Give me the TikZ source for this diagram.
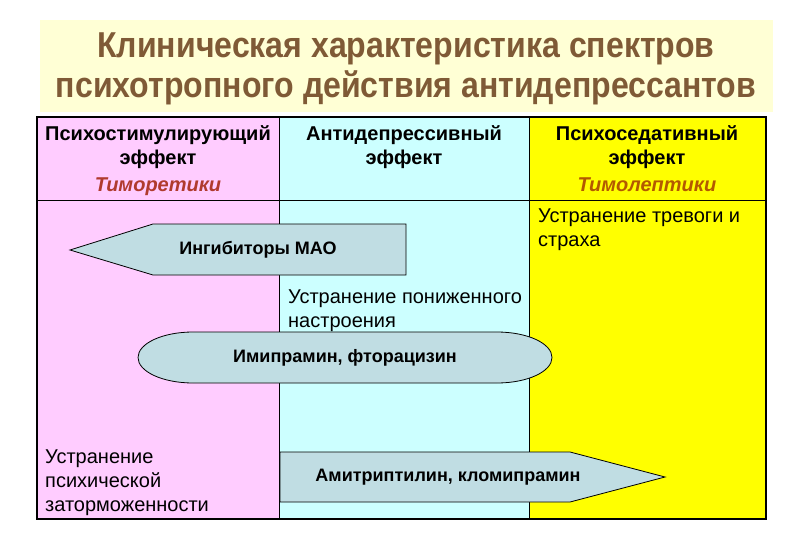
\documentclass[tikz,border=0pt]{standalone}
\usepackage{fontspec}
\setmainfont{Liberation Sans}
\usetikzlibrary{positioning}

\definecolor{titlebg}{HTML}{FFFFD5}
\definecolor{titlefg}{HTML}{7F5A36}
\definecolor{colpink}{HTML}{FFCCFF}
\definecolor{colcyan}{HTML}{CCFFFF}
\definecolor{colyellow}{HTML}{FFFF00}
\definecolor{shapefill}{HTML}{C0DDE3}
\definecolor{redtag}{HTML}{B03A2E}
\definecolor{browntag}{HTML}{B35900}

\begin{document}
\begin{tikzpicture}[x=1pt,y=-1pt,
 txt/.style={inner sep=0pt,font=\fontsize{20}{24}\selectfont},
 head/.style={txt,align=center,font=\fontsize{20}{24}\selectfont\bfseries},
 tag/.style={inner sep=0pt,font=\fontsize{20}{24}\selectfont\bfseries\itshape},
 note/.style={txt,align=left,anchor=north west},
 drug/.style={inner sep=0pt,font=\fontsize{18}{22}\selectfont\bfseries},
 drugshape/.style={draw,fill=shapefill,line width=0.8pt}]
\useasboundingbox (0,0) rectangle (810,540);
\fill[white] (0,0) rectangle (810,540);
% title
\fill[titlebg] (40,20) rectangle (773,112);
\node[inner sep=0pt,text=titlefg,font=\fontsize{36}{40}\selectfont\bfseries,align=center,xscale=0.89,transform shape] (title) at (406,69)
 {Клиническая характеристика спектров\\психотропного действия антидепрессантов};
% columns
\fill[colpink] (37,117) rectangle (279,519);
\fill[colcyan] (279,117) rectangle (529,519);
\fill[colyellow] (529,117) rectangle (766,519);
\draw[line width=0.8pt] (279,117) -- (279,519) (529,117) -- (529,519) (37,200) -- (766,200);
\draw[line width=2pt] (37,117) rectangle (766,519);
% headers
\node[head,anchor=north] (stim) at (158,125) {Психостимулирующий\\эффект};
\node[tag,text=redtag,below=9pt of stim] (timor) {Тиморетики};
\node[head,anchor=north] (antid) at (404,125) {Антидепрессивный\\эффект};
\node[head,anchor=north] (sedat) at (647,125) {Психоседативный\\эффект};
\node[tag,text=browntag,below=9pt of sedat] (timol) {Тимолептики};
% effects
\node[note] (anx) at (538,209) {Устранение тревоги и\\страха};
\node[note] (mood) at (288,290) {Устранение пониженного\\настроения};
\node[note] (inhib) at (45,450) {Устранение\\психической\\заторможенности};
% drug groups
\draw[drugshape] (70,250) -- (153,224) -- (406,224) -- (406,275) -- (153,275) -- cycle;
\node[drug] (mao) at (258,250) {Ингибиторы МАО};
\draw[drugshape] (193,332) -- (497,332) arc[start angle=-90,end angle=90,x radius=55,y radius=25.5]
 -- (193,383) arc[start angle=90,end angle=270,x radius=55,y radius=25.5] -- cycle;
\node[drug] (imip) at (345,357.5) {Имипрамин, фторацизин};
\draw[drugshape] (280,452) -- (570,452) -- (665,477) -- (570,502) -- (280,502) -- cycle;
\node[drug] (amit) at (448,477) {Амитриптилин, кломипрамин};
\end{tikzpicture}
\end{document}
